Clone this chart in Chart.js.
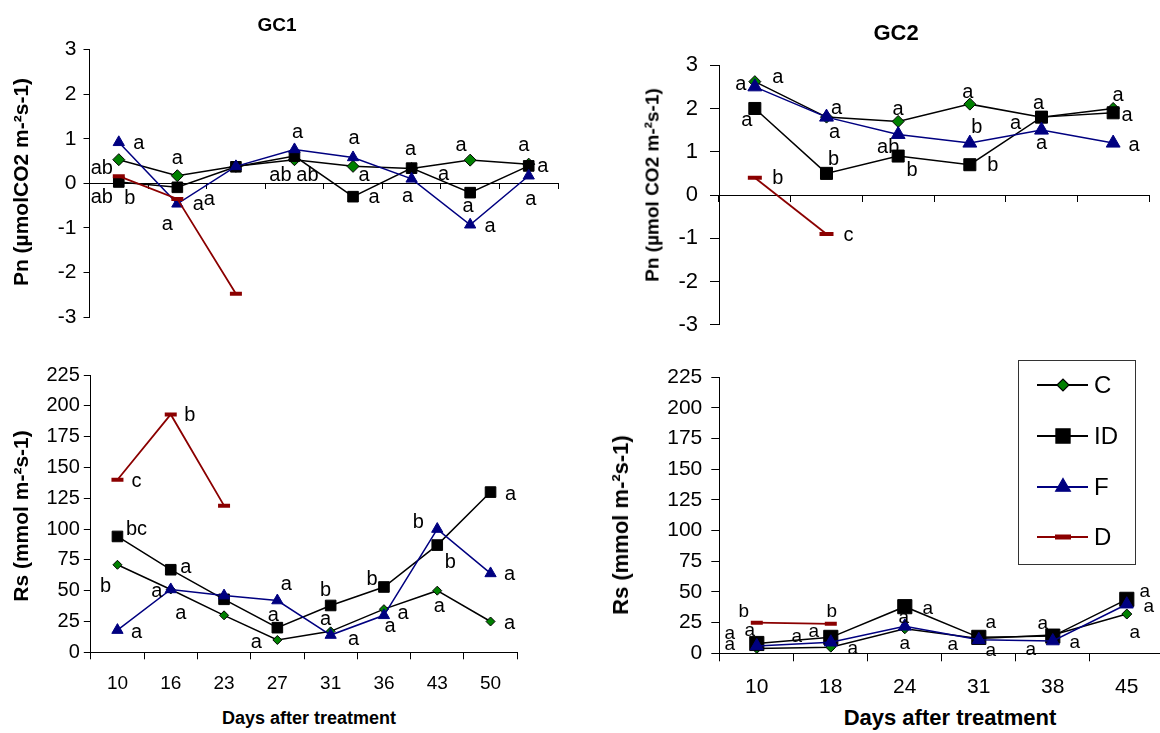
<!DOCTYPE html>
<html><head><meta charset="utf-8">
<script src="https://cdn.jsdelivr.net/npm/chart.js@4.4.1/dist/chart.umd.min.js"></script>
<style>
html,body{margin:0;padding:0;background:#fff;overflow:hidden;width:1160px;height:733px;font-family:"Liberation Sans",Arial,sans-serif;}
canvas{position:absolute;}
.t{position:absolute;font-weight:bold;white-space:nowrap;color:#000;line-height:1;transform:translate(-50%,-50%);}
.ty{transform:translate(-50%,-50%) rotate(-90deg);}
</style></head><body>
<canvas id="c1" width="580" height="310" style="left:0px;top:30px"></canvas>
<canvas id="c2" width="580" height="310" style="left:580px;top:40px"></canvas>
<canvas id="c3" width="580" height="345" style="left:0px;top:355px"></canvas>
<canvas id="c4" width="600" height="345" style="left:580px;top:355px"></canvas>
<div class="t" style="left:277px;top:24px;font-size:19px">GC1</div>
<div class="t" style="left:896px;top:33px;font-size:22px">GC2</div>
<div class="t ty" style="left:20px;top:182px;font-size:21px">Pn (µmolCO2 m-²s-1)</div>
<div class="t ty" style="left:652px;top:185px;font-size:19px">Pn (µmol CO2 m-²s-1)</div>
<div class="t ty" style="left:20px;top:516px;font-size:21px">Rs (mmol m-²s-1)</div>
<div class="t ty" style="left:621px;top:525px;font-size:22px">Rs (mmol m-²s-1)</div>
<div class="t" style="left:309px;top:718px;font-size:18px">Days after treatment</div>
<div class="t" style="left:950px;top:718px;font-size:22px">Days after treatment</div>
<script>
// ---------------- DATA ----------------
const seriesNames = ['C', 'ID', 'F', 'D'];
const gc1Days = ['10', '16', '23', '27', '31', '36', '43', '50'];
const gc2Days = ['10', '18', '24', '31', '38', '45'];
const pnTicks = [-3, -2, -1, 0, 1, 2, 3];
const rsTicks = [0, 25, 50, 75, 100, 125, 150, 175, 200, 225];

// GC1 Pn
const gc1PnC  = [0.53, 0.17, 0.38, 0.53, 0.38, 0.33, 0.52, 0.43];
const gc1PnID = [0.03, -0.09, 0.37, 0.61, -0.30, 0.34, -0.21, 0.39];
const gc1PnF  = [0.92, -0.46, 0.38, 0.76, 0.58, 0.10, -0.93, 0.17];
const gc1PnD  = [0.16, -0.35, -2.48];
// GC2 Pn
const gc2PnC  = [2.62, 1.80, 1.70, 2.10, 1.80, 2.00];
const gc2PnID = [2.00, 0.50, 0.90, 0.70, 1.80, 1.90];
const gc2PnF  = [2.50, 1.80, 1.40, 1.20, 1.50, 1.20];
const gc2PnD  = [0.40, -0.90];
// GC1 Rs
const gc1RsC  = [71, 51, 30, 10, 17, 35, 50, 25];
const gc1RsID = [94, 67, 43, 20, 38, 53, 87, 130];
const gc1RsF  = [18, 51, 46, 42, 14, 30, 100, 64];
const gc1RsD  = [140, 193, 119];
// GC2 Rs
const gc2RsC  = [4, 5, 20, 12, 15, 32];
const gc2RsID = [8, 13, 38, 13, 14, 44];
const gc2RsF  = [6, 9, 22, 11, 10, 40];
const gc2RsD  = [25, 24];

// significance letters (per series, per day)
const gc1PnLetC  = ['ab', 'a', null, 'ab', 'a', 'a', 'a', 'a'];
const gc1PnLetID = ['ab', 'a', null, 'ab', 'a', 'a', 'a', 'a'];
const gc1PnLetF  = ['a', 'a', null, 'a', 'a', 'a', 'a', 'a'];
const gc1PnLetD  = ['b', 'a', null];
const gc2PnLetC  = ['a', 'a', 'a', 'a', 'a', 'a'];
const gc2PnLetID = ['a', 'b', 'b', 'b', 'a', 'a'];
const gc2PnLetF  = ['a', 'a', 'ab', 'b', 'a', 'a'];
const gc2PnLetD  = ['b', 'c'];
const gc1RsLetC  = ['b', 'a', null, 'a', 'a', 'a', 'a', 'a'];
const gc1RsLetID = ['bc', 'a', null, 'a', 'b', 'b', 'b', 'a'];
const gc1RsLetF  = ['a', 'a', null, 'a', 'a', 'a', 'b', 'a'];
const gc1RsLetD  = ['c', 'b', null];
const gc2RsLetC  = ['a', 'a', 'a', 'a', 'a', 'a'];
const gc2RsLetID = ['a', 'a', 'a', 'a', 'a', 'a'];
const gc2RsLetF  = ['a', 'a', 'a', 'a', 'a', 'a'];
const gc2RsLetD  = ['b', 'b'];

// ---------------- LAYOUT / STYLE ----------------
const FONT = '"Liberation Sans", Arial, sans-serif';
const letterOffsets = {
  p1: [
    [[-17, 8], [0, -18], null, [-14, 15], [11, 8], [32, 5], [-9, -16], [-5, -20]],
    [[-17, 15], [21, 16], null, [13, 18], [21, 0], [-1, -20], [-2, 13], [14, 0]],
    [[20, 0], [-10, 20], null, [3, -18], [1, -20], [-4, 17], [20, 1], [2, 23]],
    [[11, 21], [32, 0], null]
  ],
  p2: [
    [[-14, 2], [10, -10], [0, -13], [-2, -13], [-3, -15], [5, -14]],
    [[-8, 11], [7, -15], [14, 13], [23, 0], [-26, 5], [14, 2]],
    [[23, -10], [8, 14], [-10, 12], [7, -17], [0, 12], [21, 1]],
    [[23, 0], [22, 1]]
  ],
  p3: [
    [[-12, 21], [10, 23], null, [-21, 2], [-5, -13], [19, 3], [2, 15], [19, 1]],
    [[19, -8], [15, -3], null, [-4, -13], [-5, -16], [-12, -8], [13, 16], [20, 1]],
    [[19, 1], [-14, 1], null, [9, -17], [23, 3], [6, 10], [-19, -8], [19, 0]],
    [[19, 1], [19, 0], null]
  ],
  p4: [
    [[-27, -5], [22, 1], [0, 14], [-26, 5], [-10, -12], [8, 18]],
    [[-7, -14], [-17, -7], [23, 1], [12, -16], [22, 6], [18, -9]],
    [[-27, -13], [-34, -6], [-1, -10], [12, 10], [-22, 8], [22, 2]],
    [[-13, -12], [1, -13]]
  ]
};

function lettersPlugin(letters, offsets, size) {
  return {
    id: 'sigLetters',
    afterDatasetsDraw(chart) {
      const ctx = chart.ctx;
      ctx.save();
      ctx.fillStyle = '#000';
      ctx.font = size + 'px ' + FONT;
      ctx.textAlign = 'center';
      ctx.textBaseline = 'middle';
      letters.forEach((arr, di) => {
        const meta = chart.getDatasetMeta(di);
        arr.forEach((txt, i) => {
          if (!txt || !meta.data[i]) return;
          const o = offsets[di][i] || [0, 0];
          const p = meta.data[i];
          ctx.fillText(txt, p.x + o[0], p.y + o[1] + 1);
        });
      });
      ctx.restore();
    }
  };
}

function drawMarker(ctx, style, x, y, r, fill, stroke, bw) {
  ctx.beginPath();
  if (style === 'rectRot') {
    ctx.moveTo(x - r, y); ctx.lineTo(x, y - r); ctx.lineTo(x + r, y); ctx.lineTo(x, y + r); ctx.closePath();
  } else if (style === 'rect') {
    const s = r * Math.SQRT1_2; ctx.rect(x - s, y - s, 2 * s, 2 * s);
  } else if (style === 'triangle') {
    ctx.moveTo(x, y - r); ctx.lineTo(x + 0.866 * r, y + 0.5 * r); ctx.lineTo(x - 0.866 * r, y + 0.5 * r); ctx.closePath();
  } else if (style === 'line') {
    ctx.moveTo(x - r, y); ctx.lineTo(x + r, y);
    ctx.strokeStyle = stroke; ctx.lineWidth = bw; ctx.stroke(); return;
  }
  ctx.fillStyle = fill; ctx.fill();
  ctx.strokeStyle = stroke; ctx.lineWidth = bw; ctx.stroke();
}

const legendPlugin = {
  id: 'boxLegend',
  afterDraw(chart) {
    const ctx = chart.ctx;
    const box = {x: 438, y: 5, w: 117, h: 204};
    const rows = [30, 81, 132, 182];
    const radii = [6, 10, 8.5, 8];
    ctx.save();
    ctx.fillStyle = '#fff';
    ctx.fillRect(box.x, box.y, box.w, box.h);
    ctx.strokeStyle = '#333'; ctx.lineWidth = 1;
    ctx.strokeRect(box.x + 0.5, box.y + 0.5, box.w, box.h);
    chart.data.datasets.forEach((ds, i) => {
      const cy = rows[i];
      ctx.beginPath(); ctx.moveTo(457, cy); ctx.lineTo(508, cy);
      ctx.strokeStyle = ds.borderColor; ctx.lineWidth = 2; ctx.stroke();
      drawMarker(ctx, ds.pointStyle, 483, cy, radii[i], ds.pointBackgroundColor, ds.pointBorderColor,
        ds.pointStyle === 'line' ? 5 : 1.2);
      ctx.fillStyle = '#000'; ctx.font = '24px ' + FONT;
      ctx.textAlign = 'left'; ctx.textBaseline = 'middle';
      ctx.fillText(ds.label, 514, cy + 1);
    });
    ctx.restore();
  }
};

const COLORS = {C: '#008000', ID: '#000000', F: '#000080', D: '#8B0000'};

function datasets(values, radii) {
  const [c, id, f, d] = values;
  return [
    {label: seriesNames[0], data: c, borderColor: '#000', borderWidth: 1.5, pointStyle: 'rectRot',
     pointRadius: radii[0], pointBackgroundColor: COLORS.C, pointBorderColor: '#000', pointBorderWidth: 1, order: 3},
    {label: seriesNames[1], data: id, borderColor: '#000', borderWidth: 1.5, pointStyle: 'rect',
     pointRadius: radii[1], pointBackgroundColor: COLORS.ID, pointBorderColor: '#000', pointBorderWidth: 1, order: 2},
    {label: seriesNames[2], data: f, borderColor: COLORS.F, borderWidth: 1.5, pointStyle: 'triangle',
     pointRadius: radii[2], pointBackgroundColor: COLORS.F, pointBorderColor: COLORS.F, pointBorderWidth: 1, order: 1},
    {label: seriesNames[3], data: d, borderColor: COLORS.D, borderWidth: 1.8, pointStyle: 'line',
     pointRadius: radii[3], pointBackgroundColor: COLORS.D, pointBorderColor: COLORS.D, pointBorderWidth: 4, order: 0}
  ];
}

function makeChart(id, o) {
  const pn = o.pn;
  return new Chart(document.getElementById(id), {
    type: 'line',
    data: {labels: o.days, datasets: datasets(o.values, o.radii)},
    options: {
      responsive: false, animation: false, events: [],
      layout: {padding: o.padding},
      plugins: {legend: {display: false}, tooltip: {enabled: false}, title: {display: false}},
      elements: {line: {tension: 0}},
      scales: {
        x: {
          type: 'category', offset: true,
          position: pn ? {y: 0} : 'bottom',
          grid: {display: true, offset: true, drawOnChartArea: false, drawTicks: true,
                 tickLength: o.xTick, tickColor: '#000', tickWidth: 1},
          border: {display: true, color: '#000', width: 1},
          ticks: {display: !pn, color: '#000', font: {family: FONT, size: o.xFont}, padding: o.xPad,
                  maxRotation: 0, autoSkip: false},
          afterFit: s => { if (!pn) s.height = 40; }
        },
        y: {
          type: 'linear', min: o.yTicks[0], max: o.yTicks[o.yTicks.length - 1],
          afterBuildTicks: s => { s.ticks = o.yTicks.map(v => ({value: v})); },
          grid: {display: true, drawOnChartArea: false, drawTicks: true, tickLength: o.yTick,
                 tickColor: '#000', tickWidth: 1},
          border: {display: true, color: '#000', width: 1},
          ticks: {color: '#000', font: {family: FONT, size: o.yFont}, padding: o.yPad},
          afterFit: s => { s.width = o.yWidth; }
        }
      }
    },
    plugins: [lettersPlugin(o.letters, o.offsets, o.letterSize)].concat(o.legend ? [legendPlugin] : [])
  });
}

makeChart('c1', {
  pn: true, days: gc1Days, values: [gc1PnC, gc1PnID, gc1PnF, gc1PnD], radii: [6, 7.5, 6.5, 6],
  padding: {left: 0, top: 15, right: 22, bottom: 23}, yWidth: 89.5, yTicks: pnTicks,
  yFont: 21, yTick: 6, yPad: 7, xTick: 5, xFont: 18, xPad: 0,
  letters: [gc1PnLetC, gc1PnLetID, gc1PnLetF, gc1PnLetD], offsets: letterOffsets.p1, letterSize: 20
});
makeChart('c2', {
  pn: true, days: gc2Days, values: [gc2PnC, gc2PnID, gc2PnF, gc2PnD], radii: [6, 8.5, 8, 7],
  padding: {left: 0, top: 16.7, right: 5.5, bottom: 20}, yWidth: 139, yTicks: pnTicks,
  yFont: 22, yTick: 9, yPad: 12, xTick: 6, xFont: 18, xPad: 0,
  letters: [gc2PnLetC, gc2PnLetID, gc2PnLetF, gc2PnLetD], offsets: letterOffsets.p2, letterSize: 20
});
makeChart('c3', {
  pn: false, days: gc1Days, values: [gc1RsC, gc1RsID, gc1RsF, gc1RsD], radii: [4.5, 7.5, 6.5, 6],
  padding: {left: 0, top: 20, right: 62.8, bottom: 7.7}, yWidth: 90.8, yTicks: rsTicks,
  yFont: 20, yTick: 7, yPad: 4, xTick: 7, xFont: 19, xPad: 13,
  letters: [gc1RsLetC, gc1RsLetID, gc1RsLetF, gc1RsLetD], offsets: letterOffsets.p3, letterSize: 20
});
makeChart('c4', {
  pn: false, days: gc2Days, values: [gc2RsC, gc2RsID, gc2RsF, gc2RsD], radii: [5, 10, 7.5, 6],
  padding: {left: 0, top: 22.3, right: 16.2, bottom: 6.7}, yWidth: 139.8, yTicks: rsTicks,
  yFont: 21, yTick: 8.5, yPad: 9, xTick: 8, xFont: 21, xPad: 13,
  letters: [gc2RsLetC, gc2RsLetID, gc2RsLetF, gc2RsLetD], offsets: letterOffsets.p4, letterSize: 19,
  legend: true
});
</script>
</body></html>
